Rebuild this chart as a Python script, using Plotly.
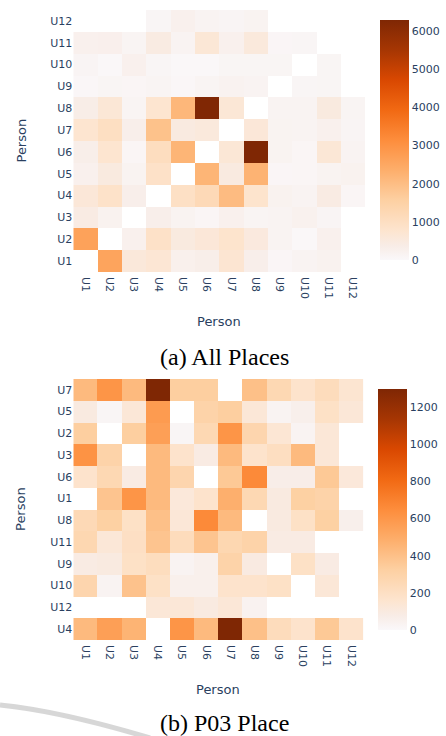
import plotly.graph_objects as go

# Participant labels shared by both matrices
persons = ["U1", "U2", "U3", "U4", "U5", "U6", "U7", "U8", "U9", "U10", "U11", "U12"]

# (a) co-occurrence counts over all places; rows U1..U12 (bottom to top), columns U1..U12
all_rows = persons
all_places = [
    [None, 2600, 580, 680, 260, 330, 720, 300, 80, 150, 200, None],
    [2650, None, 250, 900, 500, 620, 800, 520, 150, 30, 250, None],
    [430, 200, None, 300, 170, 90, 250, 130, 150, 220, 120, None],
    [620, 880, 300, None, 950, 1200, 2050, 800, 200, 150, 430, 90],
    [250, 500, 170, 900, None, 2200, 480, 2250, 80, 90, 170, 200],
    [330, 750, 90, 1050, 2200, None, 650, 6290, 170, 90, 650, 150],
    [750, 1000, 300, 1900, 480, 550, None, 620, 170, 150, 250, 120],
    [350, 650, 140, 750, 2150, 6270, 650, None, 150, 150, 500, 140],
    [50, 110, 90, 140, 60, 140, 190, 150, None, 100, 110, None],
    [120, 30, 250, 100, 40, 40, 110, 110, 110, None, 110, None],
    [250, 270, 130, 450, 150, 650, 250, 550, 80, 100, None, None],
    [None, None, None, 100, 250, 150, 120, 170, None, None, None, None],
]

# (b) counts at place P03; rows listed top to bottom
p03_rows = ["U7", "U5", "U2", "U3", "U6", "U1", "U8", "U11", "U9", "U10", "U12", "U4"]
p03_place = [
    [430, 610, 430, 1297, 330, 330, None, 400, 260, 170, 230, 150],
    [100, 20, 130, 580, None, 300, 330, 130, 30, 60, 190, 130],
    [330, None, 330, 560, 20, 260, 610, 280, 140, 30, 130, None],
    [620, 300, None, 430, 170, 90, 430, 170, 210, 430, 130, None],
    [170, 260, 90, 430, 280, None, 360, 660, 70, 70, 360, 120],
    [None, 380, 610, 430, 120, 170, 480, 260, 100, 320, 300, None],
    [250, 320, 190, 400, 130, 660, 430, None, 100, 190, 320, 60],
    [270, 130, 200, 380, 230, 380, 270, 300, 90, 90, None, None],
    [90, 100, 190, 220, 30, 55, 300, 95, None, 190, 90, None],
    [280, 30, 390, 190, 55, 55, 170, 170, 190, None, 130, None],
    [None, None, None, 130, 130, 100, 130, 40, None, None, None, None],
    [430, 560, 460, None, 610, 430, 1297, 400, 230, 170, 360, 170],
]

captions = ["(a) All Places", "(b) P03 Place"]
axis_title = "Person"

W, H = 446, 736
FONT = "DejaVu Sans"
INK = "#2a3f5f"

oranges = [
    [0.0, "rgb(250,248,250)"],
    [0.06, "rgb(248,236,230)"],
    [0.125, "rgb(253,228,206)"],
    [0.25, "rgb(253,208,162)"],
    [0.375, "rgb(253,174,107)"],
    [0.5, "rgb(253,141,60)"],
    [0.625, "rgb(241,105,19)"],
    [0.75, "rgb(217,72,1)"],
    [0.875, "rgb(166,54,3)"],
    [1.0, "rgb(127,39,4)"],
]


def px_x(v):
    return v / W


def px_y(v):
    return 1 - v / H


def zmax_of(rows):
    return max(v for row in rows for v in row if v is not None)


fig = go.Figure()

fig.add_trace(go.Heatmap(
    x=persons, y=all_rows, z=all_places,
    colorscale=oranges, zmin=0, zmax=zmax_of(all_places), hoverongaps=False,
    xaxis="x", yaxis="y",
    colorbar=dict(
        x=px_x(380), xanchor="left", xpad=0,
        y=px_y(140), yanchor="middle", ypad=0,
        len=240, lenmode="pixels", thickness=29, thicknessmode="pixels",
        outlinewidth=0, dtick=1000, tick0=0, ticklabeloverflow="allow",
        tickfont=dict(family=FONT, size=11, color=INK),
    ),
))

fig.add_trace(go.Heatmap(
    x=persons, y=p03_rows, z=p03_place,
    colorscale=oranges, zmin=0, zmax=zmax_of(p03_place), hoverongaps=False,
    xaxis="x2", yaxis="y2",
    colorbar=dict(
        x=px_x(378), xanchor="left", xpad=0,
        y=px_y(509.5), yanchor="middle", ypad=0,
        len=241, lenmode="pixels", thickness=29, thicknessmode="pixels",
        outlinewidth=0, dtick=200, tick0=0, ticklabeloverflow="allow",
        tickfont=dict(family=FONT, size=11, color=INK),
    ),
))

tick_font = dict(family=FONT, size=11, color=INK)
common = dict(showgrid=False, zeroline=False, showline=False, ticks="",
              tickfont=tick_font, type="category")

fig.update_layout(
    width=W, height=H,
    margin=dict(l=0, r=0, t=0, b=0),
    paper_bgcolor="white", plot_bgcolor="white",
    font=dict(family=FONT, color=INK),
    xaxis=dict(domain=[px_x(73.3), px_x(365)], anchor="y", tickangle=90,
               ticklabelstandoff=4, **common),
    yaxis=dict(domain=[px_y(272), px_y(10)], anchor="x", **common),
    xaxis2=dict(domain=[px_x(73.3), px_x(363.3)], anchor="y2", tickangle=90,
                ticklabelstandoff=4, **common),
    yaxis2=dict(domain=[px_y(640), px_y(379)], anchor="x2", autorange="reversed", **common),
)

annotations = []
# axis titles
for cx, cy in [(219, 321), (218.3, 689)]:
    annotations.append(dict(text=axis_title, x=px_x(cx), y=px_y(cy), xref="paper", yref="paper",
                            showarrow=False, xanchor="center", yanchor="middle",
                            font=dict(family=FONT, size=13, color=INK)))
for cy in [141, 509.5]:
    annotations.append(dict(text=axis_title, x=px_x(20.5), y=px_y(cy), xref="paper", yref="paper",
                            showarrow=False, xanchor="center", yanchor="middle", textangle=-90,
                            font=dict(family=FONT, size=13, color=INK)))
# sub-figure captions
for text, cy in zip(captions, [357, 723]):
    annotations.append(dict(text=text, x=px_x(224.5), y=px_y(cy), xref="paper", yref="paper",
                            showarrow=False, xanchor="center", yanchor="middle",
                            font=dict(family="Liberation Serif", size=24, color="black")))
fig.update_layout(annotations=annotations)

# faint page swoosh in the lower-left corner
fig.add_shape(type="path", xref="paper", yref="paper",
              path=f"M 0,{px_y(705)} Q {px_x(60)},{px_y(711)} {px_x(150)},{px_y(738)}",
              line=dict(color="rgba(205,205,205,0.8)", width=5))

fig.write_html("out.html")
